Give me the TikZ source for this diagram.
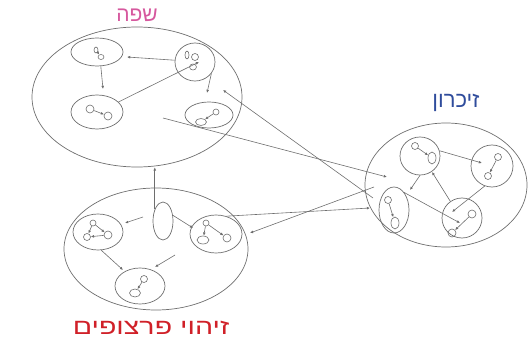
\documentclass[tikz,border=0pt]{standalone}
\usepackage{fontspec}
\usetikzlibrary{shapes.geometric,arrows.meta}
\newfontfamily\hebfont[Script=Hebrew]{Liberation Sans}
\TeXXeTstate=1
\definecolor{lpink}{HTML}{D6589E}
\definecolor{lblue}{HTML}{2F4C9C}
\definecolor{lred}{HTML}{D02028}
\definecolor{lgray}{HTML}{6E6E6E}
\tikzset{
  blob/.style={draw=lgray, line width=0.7pt, ellipse, inner sep=0pt},
  dot/.style={draw=lgray, line width=0.6pt, ellipse, inner sep=0pt},
  link/.style={draw=lgray, line width=0.6pt, -{Latex[length=3.2pt,width=2.8pt]}},
  lab/.style={font=\hebfont\fontsize{21}{25}\selectfont, inner sep=0pt}
}
\begin{document}
\begin{tikzpicture}[x=1pt,y=-1pt]
\useasboundingbox (0,0) rectangle (528,342);
% labels
\node[lab, text=lpink] (lA) at (137,15) {\beginR שפה\endR};
\node[lab, text=lblue, font=\hebfont\fontsize{22}{26}\selectfont] (lC) at (456,103) {\beginR זיכרון\endR};
\node[lab, text=lred, font=\hebfont\fontsize{22}{26}\selectfont, xscale=1.3] (lB) at (151,328) {\beginR זיהוי פרצופים\endR};
% big ellipses
\node[blob, minimum width=210, minimum height=140] (A) at (137,97) {};
\node[blob, minimum width=184, minimum height=122] (B) at (156,249) {};
\node[blob, minimum width=162, minimum height=124] (C) at (446,185) {};
% inner circles A
\node[blob, minimum width=52, minimum height=28] (A1) at (97,52) {};
\node[blob, minimum width=40, minimum height=38] (A2) at (195,62) {};
\node[blob, minimum width=52, minimum height=34] (A3) at (97,112) {};
\node[blob, minimum width=48, minimum height=26] (A4) at (209,115) {};
% inner circles B
\node[blob, minimum width=50, minimum height=36] (B1) at (98,232) {};
\node[blob, minimum width=52, minimum height=38] (B2) at (216,234) {};
\node[blob, minimum width=50, minimum height=36] (B3) at (140,286) {};
\node[blob, minimum width=20, minimum height=38] (Bs) at (163,221) {};
% inner circles C
\node[blob, minimum width=40, minimum height=38] (C1) at (420,156) {};
\node[blob, minimum width=42, minimum height=42] (C2) at (492,166) {};
\node[blob, minimum width=30, minimum height=46] (C3) at (394,210) {};
\node[blob, minimum width=40, minimum height=40] (C4) at (462,218) {};

% small items A1
\node[dot, minimum width=4, minimum height=6] (a11) at (96,50) {};
\node[dot, minimum width=6, minimum height=5] (a12) at (101,57) {};
\draw[link] (a11) -- (a12);
% A2
\node[dot, minimum width=4, minimum height=8] (a21) at (187,55) {};
\node[dot, minimum width=7, minimum height=7] (a22) at (195,57) {};
\node[dot, minimum width=7, minimum height=6] (a23) at (193,67) {};
% A3
\node[dot, minimum width=8, minimum height=8] (a31) at (90,109) {};
\node[dot, minimum width=8, minimum height=8] (a32) at (108,116) {};
\draw[link] (a31) -- (a32);
% A4
\node[dot, minimum width=6, minimum height=6] (a41) at (216,112) {};
\node[dot, minimum width=11, minimum height=7] (a42) at (201,122) {};
\draw[link] (a41) -- (a42);
% B1
\node[dot, minimum width=6, minimum height=6] (b11) at (93,223) {};
\node[dot, minimum width=7, minimum height=7] (b12) at (87,237) {};
\node[dot, minimum width=8, minimum height=8] (b13) at (108,235) {};
\draw[link] (b11) -- (b12);
\draw[link] (b13) -- (b12);
\draw[link] (b11) -- (b13);
% B2
\node[dot, minimum width=6, minimum height=6] (b21) at (206,223) {};
\node[dot, minimum width=12, minimum height=8] (b22) at (203,240) {};
\node[dot, minimum width=8, minimum height=8] (b23) at (227,238) {};
\draw[link] (b21) -- (b22);
\draw[link] (b21) -- (b23);
% B3
\node[dot, minimum width=7, minimum height=7] (b31) at (144,279) {};
\node[dot, minimum width=11, minimum height=8] (b32) at (135,293) {};
\draw[link] (b31) -- (b32);
% C1
\node[dot, minimum width=7, minimum height=7] (c11) at (415,146) {};
\node[dot, minimum width=8, minimum height=12] (c12) at (432,158) {};
\draw[link] (c11) -- (c12);
% C2
\node[dot, minimum width=7, minimum height=7] (c21) at (498,157) {};
\node[dot, minimum width=7, minimum height=7] (c22) at (488,176) {};
\draw[link] (c21) -- (c22);
% C3
\node[dot, minimum width=7, minimum height=7] (c31) at (388,200) {};
\node[dot, minimum width=8, minimum height=12] (c32) at (395,223) {};
\draw[link] (c31) -- (c32);
% C4
\node[dot, minimum width=8, minimum height=8] (c41) at (472,214) {};
\node[dot, minimum width=8, minimum height=8] (c42) at (452,233) {};
\draw[link] (c41) -- (c42);

% free end coordinates
\coordinate (pA1) at (127,57);
\coordinate (pA3t) at (103,89);
\coordinate (pA2in) at (199,62);
\coordinate (pA4t) at (207,93);
\coordinate (pAin) at (223,90);
\coordinate (pAsrc) at (163,118);
\coordinate (pCin1) at (387,177);
\coordinate (pCout1) at (373,198);
\coordinate (pCout2) at (374,187);
\coordinate (pCin2) at (370,208);
\coordinate (pB2in) at (250,233);
\coordinate (pBsrc1) at (143,217);
\coordinate (pB1in) at (125,223);
\coordinate (pB2l) at (193,228);
\coordinate (pB3a) at (123,270);
\coordinate (pB3b) at (155,267);
\coordinate (pBsrc2) at (175,255);
\coordinate (pC2in) at (482,163);
\coordinate (pC3t) at (410,190);
\coordinate (pC1b) at (432,172);
\coordinate (pC4in) at (452,212);
\coordinate (pC4l) at (460,223);

% connectors in A
\draw[link] (A2.175) -- (pA1);
\draw[link] (A1.-75) -- (pA3t);
\draw[link] (A3.25) -- (pA2in);
\draw[link] (A2.-35) -- (pA4t);
% between groups
\draw[link] (pCout1) -- (pAin);
\draw[link] (pAsrc) -- (pCin1);
\draw[link] (Bs.125) -- (Bs.125 |- A.south);
\draw[link] (pCout2) -- (pB2in);
\draw[link] (B2.60) -- (pCin2);
% connectors in B
\draw[link] (pBsrc1) -- (pB1in);
\draw[link] (Bs.30) -- (pB2l);
\draw[link] (B1.-80) -- (pB3a);
\draw[link] (pBsrc2) -- (pB3b);
% connectors in C
\draw[link] (C1.15) -- (pC2in);
\draw[link] (C1.-90) -- (pC3t);
\draw[link] (C4.125) -- (pC1b);
\draw[link] (C2.-110) -- (pC4in);
\draw[link] (C3.60) -- (pC4l);
\end{tikzpicture}
\end{document}
